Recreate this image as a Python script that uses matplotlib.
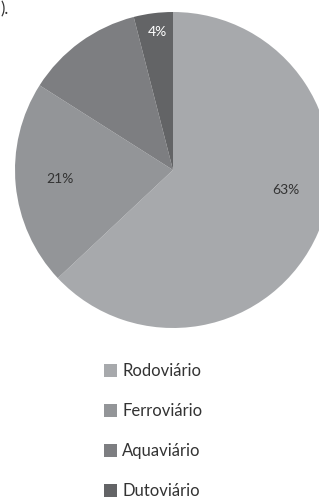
import matplotlib.pyplot as plt
from matplotlib.patches import Patch

# Data
modes = ['Rodoviário', 'Ferroviário', 'Aquaviário', 'Dutoviário']
shares = [63, 21, 12, 4]
pct_labels = ['63%', '21%', '', '4%']
colors = ['#a7a9ac', '#939598', '#7d7e81', '#636466']
label_colors = ['#333333', '#333333', '#333333', '#ffffff']

plt.rcParams['font.family'] = ['Lato', 'DejaVu Sans']

W, H = 319, 498
fig = plt.figure(figsize=(W / 100, H / 100), dpi=100)

# pie axes: centre (173,170) px, radius 158 px
cx, cy, r = 173, 170, 158
ax = fig.add_axes([(cx - r) / W, 1 - (cy + r) / H, 2 * r / W, 2 * r / H])
wedges, _ = ax.pie(shares, colors=colors, startangle=90, counterclock=False,
                   radius=1, wedgeprops=dict(linewidth=0))
ax.set_xlim(-1, 1)
ax.set_ylim(-1, 1)
ax.set_aspect('equal')
ax.axis('off')

# percentage labels (axes units of the pie)
label_pos = [(0.715, -0.127), (-0.715, -0.057), (0, 0), (-0.10, 0.873)]
for txt, pos, c in zip(pct_labels, label_pos, label_colors):
    if txt:
        ax.text(pos[0], pos[1], txt, ha='center', va='center', fontsize=10, color=c)

# legend
handles = [Patch(facecolor=c, edgecolor='none') for c in colors]
fig.legend(handles, modes, loc='upper left', bbox_to_anchor=(104 / W, 1 - 363 / H),
           frameon=False, fontsize=12, handlelength=0.8, handleheight=0.8,
           handletextpad=0.3, labelspacing=1.45, labelcolor='#333333',
           borderpad=0, borderaxespad=0)

# figure tag at the top-left corner
fig.text(0.5 / W, 1 - 1 / H, ').', fontsize=12, color='#333333', ha='left', va='top')

fig.savefig('out.png', dpi=100)
